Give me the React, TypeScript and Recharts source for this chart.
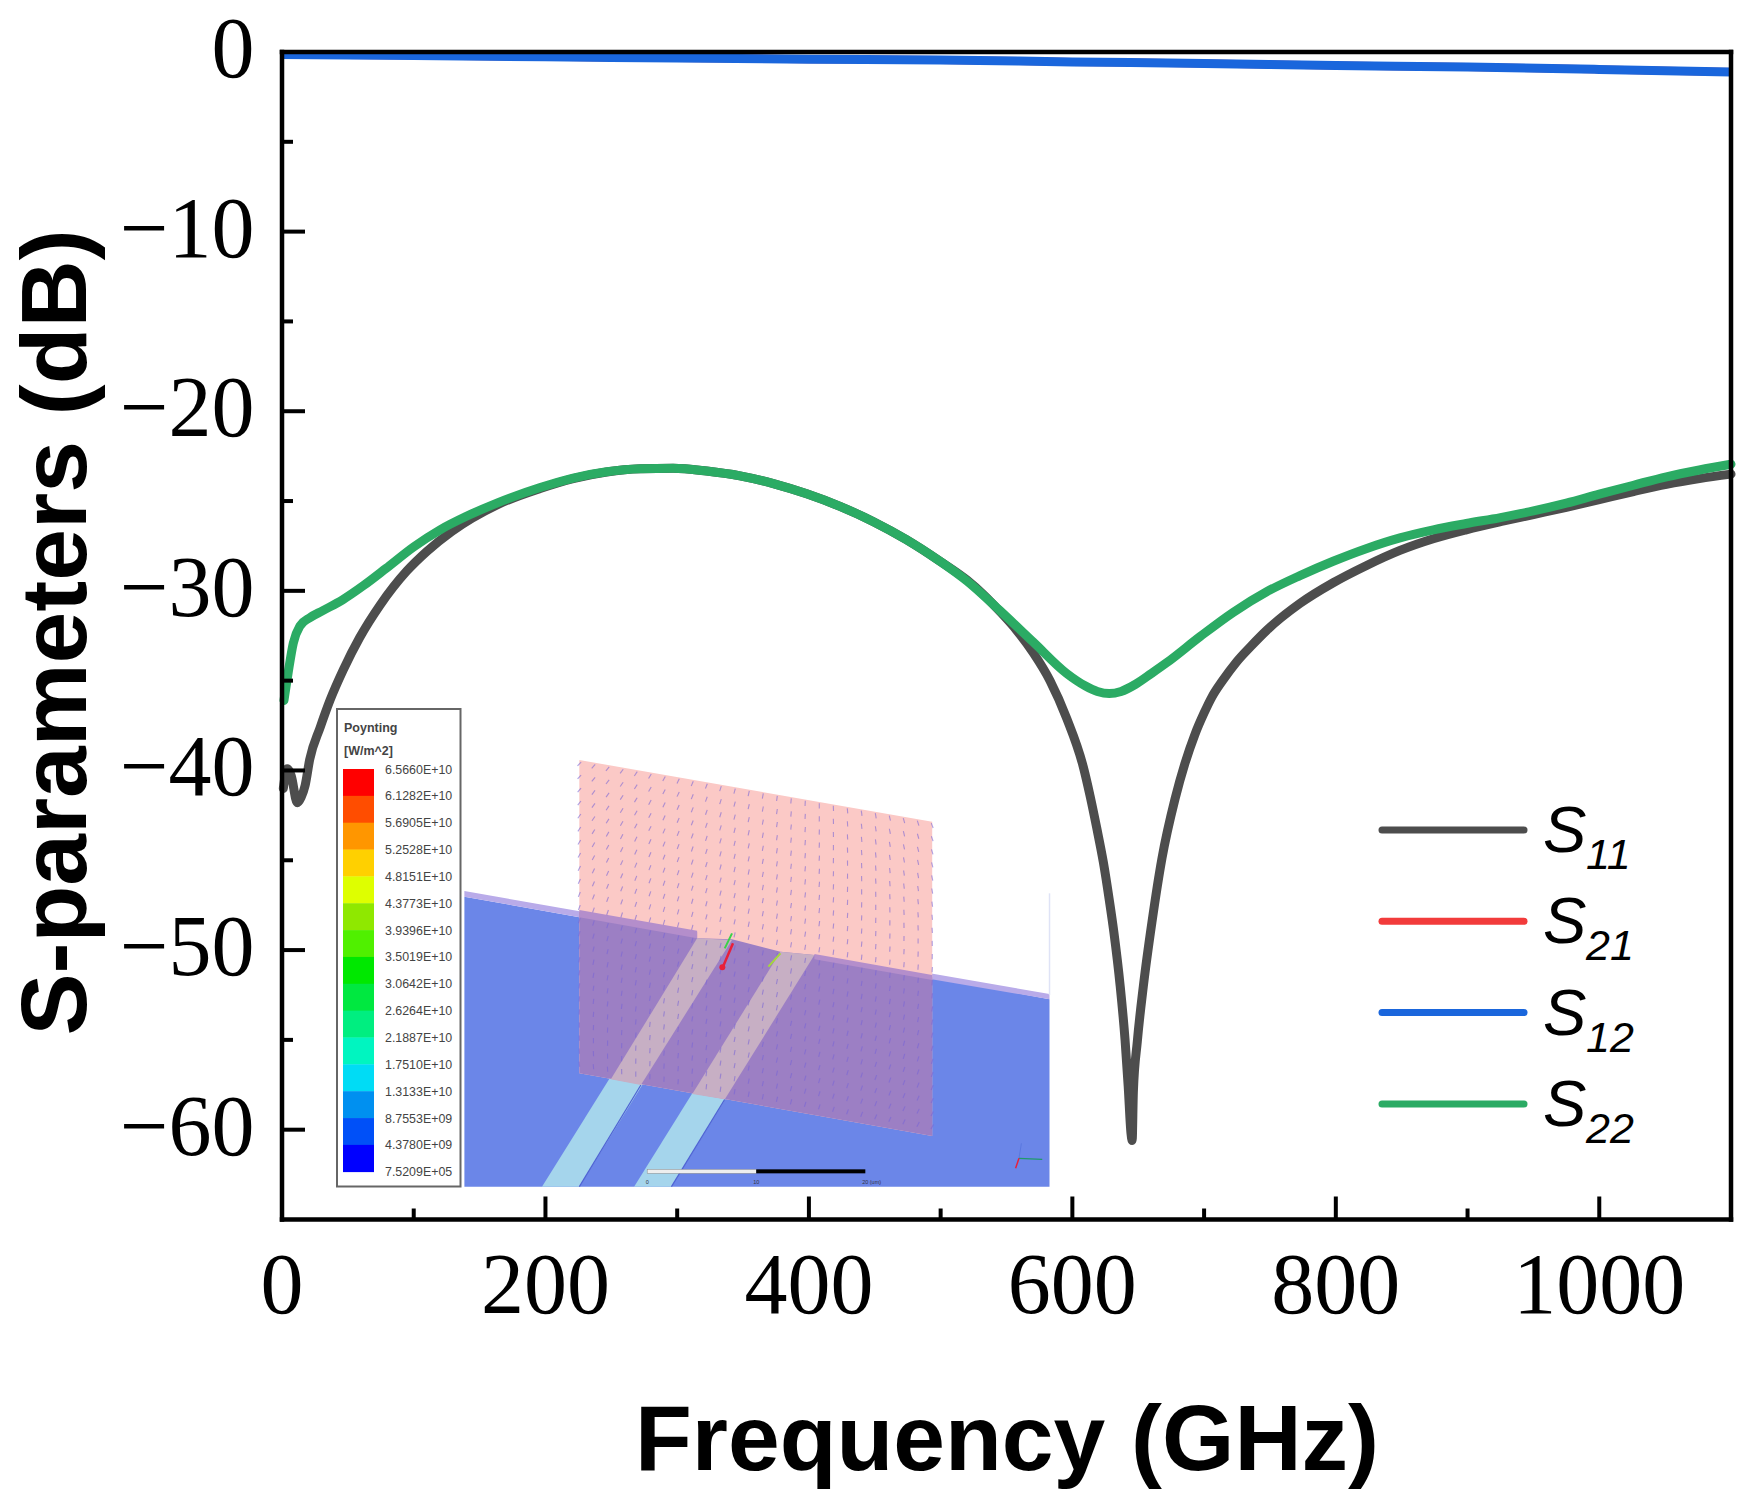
import React from 'react';
import { LineChart, Line, XAxis, YAxis, Legend, Label } from 'recharts';

// ---- data ----
const s11Freq = [1, 4, 7, 11.6, 14.5, 17.5, 21, 29, 36.4, 46.5, 59, 74.4, 94.7, 110, 128.7, 163.6, 196, 221, 246.5, 271.8, 297, 322.4, 347.7, 373, 398.3, 423.6, 449, 474, 499.5, 520, 532.4, 545, 557.7, 570.3, 583, 595.7, 608.3, 613.4, 618.5, 623.5, 628, 631.5, 636.3, 640, 642.4, 644.5, 645.4, 646.3, 649.3, 653.9, 660.5, 668, 677.9, 685.5, 693, 700, 706, 714, 724.7, 736, 747.5, 772.8, 798, 823, 848.7, 874, 899, 925, 950, 975, 1000, 1026, 1051, 1076, 1100];
const s11Db = [-41, -39.9, -40.3, -41.8, -41.5, -40.85, -39.4, -37.6, -36.1, -34.4, -32.6, -30.8, -28.9, -27.8, -26.7, -25.2, -24.3, -23.75, -23.38, -23.2, -23.17, -23.33, -23.6, -24.03, -24.6, -25.3, -26.15, -27.15, -28.35, -29.4, -30.2, -31.15, -32.2, -33.45, -35, -37.1, -39.8, -41.4, -43.2, -45.1, -47.2, -49, -52, -55, -57.6, -60.2, -60.6, -57.9, -55.1, -52, -48.4, -44.9, -41.6, -39.6, -38, -36.8, -35.9, -35, -33.95, -33.05, -32.2, -30.7, -29.55, -28.6, -27.75, -27.1, -26.6, -26.15, -25.75, -25.35, -24.92, -24.47, -24.07, -23.75, -23.5];
const s12Freq = [0, 100, 200, 300, 400, 500, 600, 700, 800, 900, 1000, 1100];
const s12Db = [-0.14, -0.2, -0.27, -0.33, -0.4, -0.45, -0.55, -0.64, -0.75, -0.84, -0.97, -1.12];
const s21Freq = [0, 100, 200, 300, 400, 500, 600, 700, 800, 900, 1000, 1100];
const s21Db = [-0.14, -0.2, -0.27, -0.33, -0.4, -0.45, -0.55, -0.64, -0.75, -0.84, -0.97, -1.12];
const s22Freq = [1.5, 4.8, 8.6, 13.7, 21, 31, 46, 62, 79, 100, 120, 140, 163.6, 196, 221, 246.5, 271.8, 297, 322.4, 347.7, 373, 398.3, 423.6, 449, 474, 499.5, 520, 545, 570.3, 595.7, 610, 619, 628, 637, 648, 660, 671.6, 696.9, 722, 747.5, 772.8, 798, 823, 848.7, 874, 899, 925, 950, 975, 1000, 1026, 1051, 1076, 1100];
const s22Db = [-36.1, -34.5, -32.9, -31.95, -31.5, -31.1, -30.5, -29.7, -28.75, -27.55, -26.6, -25.85, -25.1, -24.25, -23.72, -23.37, -23.2, -23.17, -23.33, -23.6, -24.03, -24.6, -25.3, -26.15, -27.15, -28.35, -29.45, -31.1, -32.85, -34.6, -35.3, -35.6, -35.72, -35.6, -35.2, -34.6, -34, -32.55, -31.2, -30.05, -29.15, -28.35, -27.65, -27.05, -26.6, -26.25, -25.92, -25.55, -25.12, -24.62, -24.12, -23.65, -23.27, -22.95];

const xTicks = [0, 100, 200, 300, 400, 500, 600, 700, 800, 900, 1000];
const yTicks = [0, -5, -10, -15, -20, -25, -30, -35, -40, -45, -50, -55, -60];

const colorbarLabels = ['6.5660E+10', '6.1282E+10', '5.6905E+10', '5.2528E+10', '4.8151E+10', '4.3773E+10', '3.9396E+10', '3.5019E+10', '3.0642E+10', '2.6264E+10', '2.1887E+10', '1.7510E+10', '1.3133E+10', '8.7553E+09', '4.3780E+09', '7.5209E+05'];
const colorbarColors = ['#ff0000', '#ff4d00', '#ff9600', '#ffd000', '#deff00', '#8fe800', '#50f000', '#00e800', '#00e840', '#00ee80', '#00f5c0', '#00dcf5', '#0090f0', '#0050f8', '#0000ff'];

const toRows = (f: number[], v: number[]) => f.map((x, i) => ({ f: x, db: v[i] }));

const COL = { s11: '#4d4d4d', s21: '#f23b3b', s12: '#1a66dc', s22: '#2bab64' };
const SERIF = '"Liberation Serif", serif';
const SANS = '"Liberation Sans", sans-serif';
const TICK_FONT = 86;
const MAJOR = 23;
const MINOR = 11;

const BottomTick = ({ x, y, payload }: any) => {
  const major = payload.value % 200 === 0;
  return (
    <g>
      <line x1={x} x2={x} y1={y} y2={y - (major ? MAJOR : MINOR)} stroke="#000" strokeWidth={4} />
      {major && (
        <text x={x} y={1313} textAnchor="middle" fontFamily={SERIF} fontSize={TICK_FONT} fill="#000">{payload.value}</text>
      )}
    </g>
  );
};
const TopTick = ({ x, y, payload }: any) => (
  <line x1={x} x2={x} y1={y} y2={y + (payload.value % 200 === 0 ? MAJOR : MINOR)} stroke="#000" strokeWidth={4} />
);
const LeftTick = ({ x, y, payload }: any) => {
  const major = payload.value % 10 === 0;
  return (
    <g>
      {payload.value !== 0 && <line x1={x} x2={x + (major ? MAJOR : MINOR)} y1={y} y2={y} stroke="#000" strokeWidth={4} />}
      {major && (
        <text x={254.5} y={y + 25} textAnchor="end" fontFamily={SERIF} fontSize={TICK_FONT} fill="#000">
          {payload.value === 0 ? '0' : '\u2212' + Math.abs(payload.value)}
        </text>
      )}
    </g>
  );
};
const RightTick = ({ x, y, payload }: any) =>
  payload.value === 0 ? null : (
    <line x1={x} x2={x - (payload.value % 10 === 0 ? MAJOR : MINOR)} y1={y} y2={y} stroke="#000" strokeWidth={4} />
  );

const LegendRows = ({ payload }: any) => (
  <svg width={373} height={340} style={{ display: 'block', overflow: 'visible' }}>
    {(payload || []).map((p: any, i: number) => {
      const cy = 30 + i * 91.3;
      return (
        <g key={p.value}>
          <line x1={6} x2={148} y1={cy} y2={cy} stroke={p.color} strokeWidth={7} strokeLinecap="round" />
          <text x={167} y={cy + 22} fontFamily={SANS} fontStyle="italic" fontSize={65} fill="#000">{String(p.value).charAt(0)}</text>
          <text x={210} y={cy + 39} fontFamily={SANS} fontStyle="italic" fontSize={43} fill="#000">{String(p.value).slice(1)}</text>
        </g>
      );
    })}
  </svg>
);

// ---- inset picture ----
const px = (d: number) => 320 + d / 2.063;
const py = (d: number) => 690 + d / 3;
const poly = (pts: number[][]) => pts.map(([a, b]) => `${px(a).toFixed(1)},${py(b).toFixed(1)}`).join(' ');

const dashRows = Array.from({ length: 24 }, (_, i) => i);
const dashCols = Array.from({ length: 26 }, (_, i) => i);

const Inset = () => (
  <svg width={1752} height={1510} style={{ position: 'absolute', left: 0, top: 0, pointerEvents: 'none' }}>
    {/* colour legend */}
    <rect x={337} y={709} width={123.5} height={477.5} fill="#fff" stroke="#666" strokeWidth={2} />
    <text x={344} y={732} fontFamily={SANS} fontWeight="bold" fontSize={12.5} fill="#444">Poynting</text>
    <text x={344} y={755} fontFamily={SANS} fontWeight="bold" fontSize={12.5} fill="#444">[W/m^2]</text>
    {colorbarColors.map((c, i) => (
      <rect key={c} x={343} y={769 + i * 26.85} width={31} height={27.2} fill={c} />
    ))}
    {colorbarLabels.map((l, i) => (
      <text key={l} x={385} y={773.5 + i * 26.85} fontFamily={SANS} fontSize={12.4} fill="#444">{l}</text>
    ))}
    {/* substrate */}
    <polygon points={poly([[298, 620], [778, 745], [850, 748], [950, 785], [1020, 795], [1505, 928], [1505, 1490], [298, 1490]])} fill="#6b86e8" />
    <polygon points={poly([[298, 603], [778, 725], [778, 745], [298, 620]])} fill="#b9abe9" />
    <polygon points={poly([[1020, 790], [1505, 912], [1505, 928], [1020, 808]])} fill="#b9abe9" />
    <line x1={px(1505)} x2={px(1505)} y1={py(610)} y2={py(915)} stroke="#dfe3f6" strokeWidth={1.5} />
    {/* strips */}
    <polygon points={poly([[778, 745], [850, 750], [535, 1490], [458, 1490]])} fill="#a5d5ec" />
    <polygon points={poly([[950, 785], [1020, 795], [725, 1490], [648, 1490]])} fill="#a5d5ec" />
    <line x1={px(535)} y1={py(1490)} x2={px(662)} y2={py(1185)} stroke="#4f62d4" strokeWidth={1.2} />
    <line x1={px(725)} y1={py(1490)} x2={px(835)} y2={py(1228)} stroke="#4f62d4" strokeWidth={1.2} />
    {/* pink plane */}
    <polygon points={poly([[535, 210], [1263, 395], [1263, 1338], [535, 1150]])} fill="#fbc9c6" />
    <polygon points={poly([[535, 665], [778, 725], [778, 745], [850, 748], [950, 785], [1020, 795], [1263, 862], [1263, 1338], [535, 1150]])} fill="#9c7fc4" />
    <polygon points={poly([[535, 660], [778, 722], [778, 745], [535, 682]])} fill="#b48ecb" />
    <polygon points={poly([[1020, 792], [1263, 855], [1263, 870], [1020, 808]])} fill="#b48ecb" />
    <polygon points={poly([[778, 745], [850, 750], [662, 1185], [600, 1168]])} fill="#c7afc4" />
    <polygon points={poly([[950, 785], [1020, 795], [835, 1228], [768, 1212]])} fill="#c7afc4" />
    {/* field vectors */}
    {dashRows.map((r) =>
      dashCols.map((c) => {
        const u = c / 25;
        const v = (r + 0.3) / 24;
        const dx = 535 + u * 728;
        const top = 210 + u * 185;
        const bottom = 1150 + u * 188;
        const dy = top + v * (bottom - top);
        const a = 1.9 - u * 0.25 + (0.5 - v) * (0.9 - 1.8 * u);
        const len = 2.6;
        const X = px(dx);
        const Y = py(dy);
        return (
          <line key={`${r}-${c}`} x1={X - Math.cos(a) * len} y1={Y - Math.sin(a) * len} x2={X + Math.cos(a) * len} y2={Y + Math.sin(a) * len} stroke="#7a66d6" strokeWidth={1.1} opacity={0.6} />
        );
      })
    )}
    <line x1={px(850)} y1={py(730)} x2={px(835)} y2={py(775)} stroke="#3ad24a" strokeWidth={2} />
    <line x1={px(950)} y1={py(790)} x2={px(925)} y2={py(830)} stroke="#a6d83a" strokeWidth={2} />
    <line x1={px(852)} y1={py(760)} x2={px(830)} y2={py(835)} stroke="#e8203a" strokeWidth={2.5} />
    <circle cx={px(830)} cy={py(832)} r={3} fill="#e8203a" />
    {/* scale bar */}
    <rect x={px(675)} y={py(1438)} width={px(900) - px(675)} height={4} fill="#eee" stroke="#888" strokeWidth={0.5} />
    <rect x={px(900)} y={py(1438)} width={px(1125) - px(900)} height={4} fill="#000" />
    <text x={px(675)} y={py(1482)} fontFamily={SANS} fontSize={5.5} fill="#334" textAnchor="middle">0</text>
    <text x={px(900)} y={py(1482)} fontFamily={SANS} fontSize={5.5} fill="#334" textAnchor="middle">10</text>
    <text x={px(1138)} y={py(1482)} fontFamily={SANS} fontSize={5.5} fill="#334" textAnchor="middle">20 (um)</text>
    {/* triad */}
    <line x1={px(1442)} y1={py(1405)} x2={px(1447)} y2={py(1360)} stroke="#5a78e0" strokeWidth={1} />
    <line x1={px(1442)} y1={py(1405)} x2={px(1490)} y2={py(1408)} stroke="#1f9a6a" strokeWidth={1.2} />
    <line x1={px(1442)} y1={py(1405)} x2={px(1435)} y2={py(1435)} stroke="#e8203a" strokeWidth={1.5} />
  </svg>
);

export default function App() {
  return (
    <div style={{ position: 'absolute', left: 0, top: 0, width: 1752, height: 1510, background: '#fff', overflow: 'hidden' }}>
      <LineChart width={1752} height={1510} margin={{ top: 0, right: 0, bottom: 0, left: 0 }}>
        <XAxis
          dataKey="f" type="number" domain={[0, 1100]} ticks={xTicks} interval={0} height={290.5}
          tickSize={0} tickMargin={0} tickLine={false} tick={<BottomTick />}
          axisLine={{ stroke: '#000', strokeWidth: 4.5, strokeLinecap: 'square' }}
        >
          <Label content={() => (
            <text x={1007} y={1470} textAnchor="middle" fontFamily={SANS} fontWeight="bold" fontSize={93} fill="#000">Frequency (GHz)</text>
          )} />
        </XAxis>
        <XAxis
          xAxisId="top" orientation="top" dataKey="f" type="number" domain={[0, 1100]} ticks={xTicks} interval={0} height={52}
          tickSize={0} tickMargin={0} tickLine={false} tick={<TopTick />}
          axisLine={{ stroke: '#000', strokeWidth: 4.5, strokeLinecap: 'square' }}
        />
        <YAxis
          type="number" domain={[-65, 0]} ticks={yTicks} interval={0} width={282}
          tickSize={0} tickMargin={0} tickLine={false} tick={<LeftTick />}
          axisLine={{ stroke: '#000', strokeWidth: 4.5, strokeLinecap: 'square' }}
        >
          <Label content={() => (
            <text transform="translate(86 632.5) rotate(-90)" textAnchor="middle" fontFamily={SANS} fontWeight="bold" fontSize={93} fill="#000">S-parameters (dB)</text>
          )} />
        </YAxis>
        <YAxis
          yAxisId="right" orientation="right" type="number" domain={[-65, 0]} ticks={yTicks} interval={0} width={21}
          tickSize={0} tickMargin={0} tickLine={false} tick={<RightTick />}
          axisLine={{ stroke: '#000', strokeWidth: 4.5, strokeLinecap: 'square' }}
        />
        <Legend
          layout="vertical" align="center" verticalAlign="middle" itemSorter={null}
          content={<LegendRows />}
          wrapperStyle={{ position: 'absolute', left: 1376, top: 800, width: 373, height: 340, margin: 0 }}
        />
        <Line name="S11" data={toRows(s11Freq, s11Db)} dataKey="db" type="monotoneX" stroke={COL.s11} strokeWidth={9} dot={false} isAnimationActive={false} strokeLinecap="round" />
        <Line name="S21" data={toRows(s21Freq, s21Db)} dataKey="db" type="monotoneX" stroke={COL.s21} strokeWidth={8} dot={false} isAnimationActive={false} />
        <Line name="S12" data={toRows(s12Freq, s12Db)} dataKey="db" type="monotoneX" stroke={COL.s12} strokeWidth={9} dot={false} isAnimationActive={false} />
        <Line name="S22" data={toRows(s22Freq, s22Db)} dataKey="db" type="monotoneX" stroke={COL.s22} strokeWidth={9} dot={false} isAnimationActive={false} strokeLinecap="round" />
      </LineChart>
      <Inset />
    </div>
  );
}
